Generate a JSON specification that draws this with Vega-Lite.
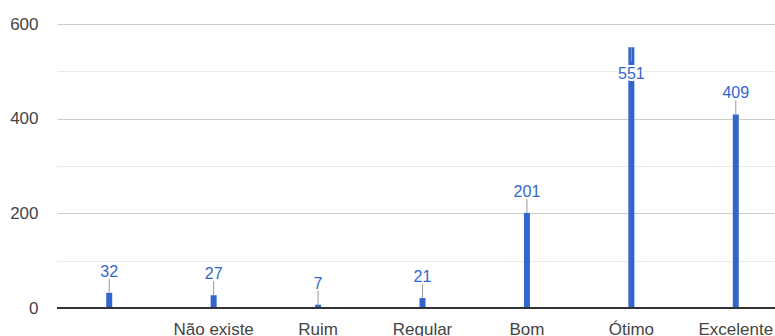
{
  "$schema": "https://vega.github.io/schema/vega-lite/v6.json",
  "autosize": "none",
  "width": 718,
  "height": 284,
  "padding": {"left": 57, "top": 24, "right": 0, "bottom": 28},
  "background": "white",
  "config": {"view": {"stroke": null}, "font": "Arial"},
  "data": {"values": [
    {"category": "", "value": 32},
    {"category": "Não existe", "value": 27},
    {"category": "Ruim", "value": 7},
    {"category": "Regular", "value": 21},
    {"category": "Bom", "value": 201},
    {"category": "Ótimo", "value": 551},
    {"category": "Excelente", "value": 409}
  ]},
  "encoding": {
    "x": {"field": "category", "type": "nominal", "sort": null,
      "scale": {"range": [0, 731], "paddingInner": 0, "paddingOuter": 0},
      "axis": {"title": null, "domain": false, "ticks": false, "tickSize": 0, "labelPadding": 13,
        "labelAngle": 0, "labelFontSize": 17, "labelColor": "#444", "labelFont": "Arial",
        "labelOverlap": false, "labelBound": false, "labelBaseline": "top"}},
    "y": {"field": "value", "type": "quantitative",
      "scale": {"domain": [0, 600], "nice": false},
      "axis": {"title": null, "domain": false, "ticks": false, "tickSize": 0, "labelPadding": 19,
        "values": [0, 100, 200, 300, 400, 500, 600],
        "labelExpr": "datum.value % 200 === 0 ? datum.label : ''",
        "gridColor": {"condition": {"test": "datum.value % 200 === 0", "value": "#cccccc"}, "value": "#ebebeb"},
        "labelFontSize": 17, "labelColor": "#444", "labelFont": "Arial"}}
  },
  "layer": [
    {"mark": {"type": "bar", "size": 6, "color": "#3366cc"}},
    {"mark": {"type": "rule", "color": "#333333", "strokeWidth": 1}, "encoding": {"y": {"datum": 0}, "x": {"value": 0}, "x2": {"value": 718}}},
    {"transform": [{"filter": "datum.value < 500"}],
      "mark": {"type": "rule", "color": "#999999", "strokeWidth": 1, "y2Offset": -14},
      "encoding": {"y2": {"field": "value"}}},
    {"transform": [{"filter": "datum.value < 500"}],
      "mark": {"type": "text", "baseline": "alphabetic", "dy": -16, "fontSize": 16, "color": "#3366cc", "font": "Arial"},
      "encoding": {"text": {"field": "value"}}},
    {"transform": [{"filter": "datum.value >= 500"}],
      "mark": {"type": "rule", "color": "#999999", "strokeWidth": 1, "y2Offset": 14},
      "encoding": {"y2": {"field": "value"}}},
    {"transform": [{"filter": "datum.value >= 500"}],
      "mark": {"type": "text", "baseline": "alphabetic", "dy": 32, "fontSize": 16, "fill": "white", "stroke": "white", "strokeWidth": 4, "strokeJoin": "round", "font": "Arial"},
      "encoding": {"text": {"field": "value"}}},
    {"transform": [{"filter": "datum.value >= 500"}],
      "mark": {"type": "text", "baseline": "alphabetic", "dy": 32, "fontSize": 16, "color": "#3366cc", "font": "Arial"},
      "encoding": {"text": {"field": "value"}}}
  ]
}
